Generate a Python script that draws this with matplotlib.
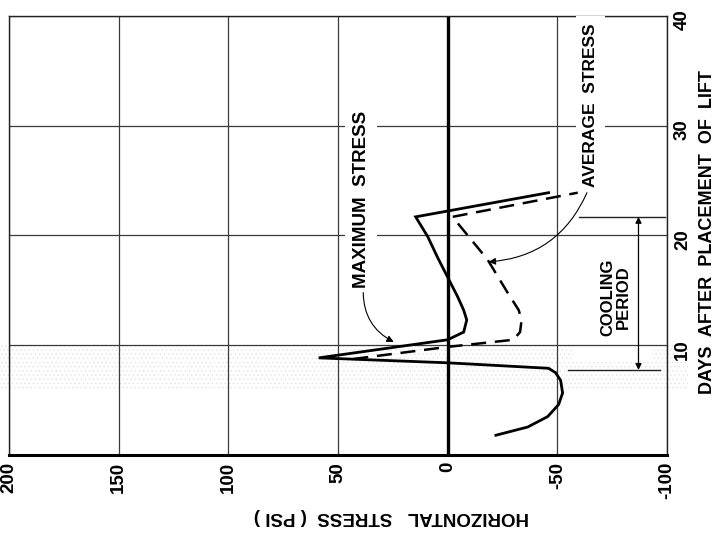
import matplotlib
matplotlib.use("Agg")
import matplotlib.pyplot as plt
from matplotlib.patches import Rectangle

plt.rcParams['font.family'] = ['Liberation Sans', 'DejaVu Sans']
plt.rcParams['font.weight'] = 'bold'
plt.rcParams['axes.labelweight'] = 'bold'
plt.rcParams['hatch.linewidth'] = 0.5

# ---- data (stress in psi, time in days) ----
max_stress = [-22, -36.5, -45.6, -50.6, -52.4, -51.5, -49.2, -46, 0, 58.8,
              0, -7.3, -8.7, -7.3, -4.6, 0, 4.6, 9.1, 14.6, -46]
max_days = [1.8, 2.55, 3.5, 4.6, 5.65, 6.8, 7.5, 7.9, 8.4, 8.85,
            10.5, 11.2, 12.3, 13.2, 14.4, 16.2, 18.0, 19.9, 21.7, 23.9]

avg_stress = [43, 0, -30, -33, -33.7, -32.4, -27.3, -18.2, -2.2, -59.3]
avg_days = [8.75, 9.85, 10.5, 11.2, 12.3, 13.2, 14.8, 17.8, 21.7, 23.9]

stress_ticks = [200, 150, 100, 50, 0, -50, -100]
stress_labels = ["200", "150", "100", "50", "0", "-50", "-100"]
day_ticks = [10, 20, 30, 40]
day_labels = ["10", "20", "30", "40"]

cooling_start, cooling_end = 7.75, 21.7

fig = plt.figure(figsize=(7.17, 5.34), dpi=100)
fig.patch.set_facecolor('white')
ax = fig.add_axes([9/717, 1-455/534, (667-9)/717, (455-16)/534])
ax.set_facecolor('none')

# scanner speckle band
fig.patches.append(Rectangle((0, 1-390/534), 0.96, 45/534, transform=fig.transFigure,
                             facecolor='none', edgecolor='#e2e2e2', hatch='....',
                             lw=0, zorder=-5))

ax.set_xlim(200, -100)
ax.set_ylim(0, 40)

ax.set_xticks(stress_ticks)
ax.set_xticklabels(stress_labels)
ax.set_yticks(day_ticks)
ax.set_yticklabels(day_labels)
ax.yaxis.tick_right()
ax.yaxis.set_label_position('right')
ax.tick_params(axis='x', length=0, pad=5, labelrotation=90, labelsize=13.5)
ax.tick_params(axis='y', length=0, pad=5, labelrotation=90, labelsize=13.5)

ax.grid(True, color='#3a3a3a', lw=0.9, zorder=1)
for s in ['top', 'left', 'right']:
    ax.spines[s].set_linewidth(1.0)
    ax.spines[s].set_color('#222222')
ax.spines['bottom'].set_linewidth(2.2)

ax.axvline(0, color='black', lw=2.4, zorder=2)

# white area behind cooling annotation (interrupts grid)
ax.add_patch(Rectangle((-57, 8.5), -36, 12.6, facecolor='white', edgecolor='none', zorder=1.5))

ax.plot(max_stress, max_days, color='black', lw=2.0, zorder=4, solid_joinstyle='miter')
ax.plot(avg_stress, avg_days, color='black', lw=1.8, ls=(0, (6, 3.5)), zorder=4)

# cooling period
ax.plot([-59.7, -98.9], [cooling_end, cooling_end], color='#222222', lw=1.0, zorder=3)
ax.plot([-55, -97], [cooling_start, cooling_start], color='#222222', lw=1.0, zorder=3)
ax.annotate('', xy=(-87, cooling_end), xytext=(-87, cooling_start),
            arrowprops=dict(arrowstyle='<|-|>', color='black', lw=0.9,
                            mutation_scale=9, shrinkA=0, shrinkB=0), zorder=3)
ax.text(-76.5, 14.4, "COOLING\nPERIOD", rotation=90, ha='center', va='center',
        fontsize=12, linespacing=1.0, zorder=5)

box = dict(boxstyle='square,pad=0.4', facecolor='white', edgecolor='none')
ax.text(39.5, 23.3, "MAXIMUM  STRESS", rotation=90, ha='center', va='center',
        fontsize=13.5, bbox=box, zorder=3)
ax.text(-65.0, 31.9, "AVERAGE  STRESS", rotation=90, ha='center', va='center',
        fontsize=12.5, bbox=box, zorder=3)

ax.annotate('', xy=(24.6, 10.3), xytext=(38.5, 14.8),
            arrowprops=dict(arrowstyle='-|>', color='black', lw=0.8,
                            mutation_scale=10, shrinkA=0, shrinkB=0,
                            connectionstyle='arc3,rad=0.3'), zorder=5)
ax.annotate('', xy=(-18.7, 17.6), xytext=(-63.5, 23.9),
            arrowprops=dict(arrowstyle='-|>', color='black', lw=0.8,
                            mutation_scale=10, shrinkA=0, shrinkB=0,
                            connectionstyle='arc3,rad=-0.3'), zorder=5)

ax.set_xlabel("HORIZONTAL   STRESS  ( PSI )", rotation=180, fontsize=13.5)
ax.xaxis.set_label_coords((391-9)/658, -0.12)
ax.set_ylabel("DAYS  AFTER  PLACEMENT  OF  LIFT", rotation=90, fontsize=13)
ax.yaxis.set_label_coords(1 + (699-667)/658, (455-232)/439)

fig.savefig("out.png", dpi=100)
